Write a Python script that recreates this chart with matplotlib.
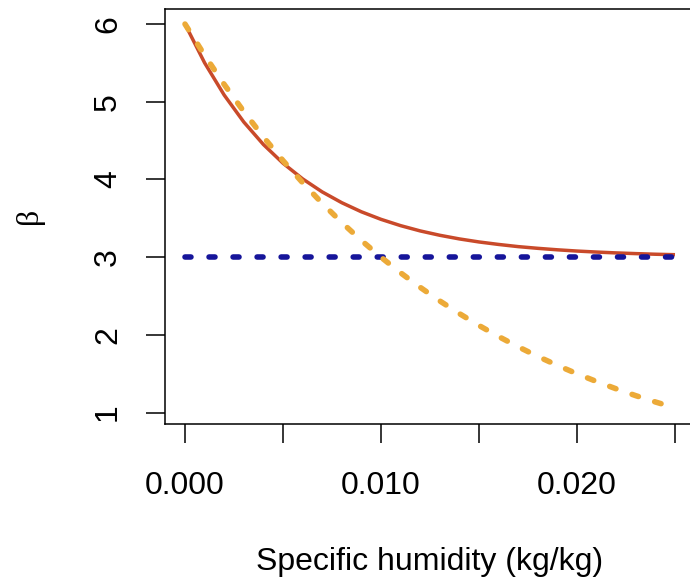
import matplotlib
matplotlib.use('Agg')
import matplotlib.pyplot as plt

plt.rcParams['font.family'] = ['Liberation Sans', 'DejaVu Sans']
plt.rcParams['lines.scale_dashes'] = False

# Specific humidity (kg/kg)
q = [0.000, 0.001, 0.002, 0.003, 0.004, 0.005, 0.006, 0.007, 0.008, 0.009,
     0.010, 0.011, 0.012, 0.013, 0.014, 0.015, 0.016, 0.017, 0.018, 0.019,
     0.020, 0.021, 0.022, 0.023, 0.024, 0.025]
# red solid curve
beta_red = [6.000, 5.501, 5.086, 4.739, 4.450, 4.209, 4.008, 3.840, 3.701, 3.584,
            3.487, 3.406, 3.338, 3.282, 3.235, 3.196, 3.164, 3.136, 3.114, 3.095,
            3.079, 3.066, 3.055, 3.046, 3.038, 3.032]
# orange dashed curve
beta_orange = [6.000, 5.598, 5.223, 4.874, 4.547, 4.243, 3.959, 3.693, 3.446, 3.215,
               3.000, 2.799, 2.612, 2.437, 2.274, 2.121, 1.979, 1.847, 1.723, 1.608,
               1.500, 1.400, 1.306, 1.218, 1.137, 1.061]
# blue dotted constant
q_blue = [0.000, 0.025]
beta_blue = [3.0, 3.0]

xticks = [0.000, 0.005, 0.010, 0.015, 0.020, 0.025]
xtick_labels = ['0.000', '', '0.010', '', '0.020', '']
yticks = [1, 2, 3, 4, 5, 6]
ytick_labels = ['1', '2', '3', '4', '5', '6']

W, H = 690, 582
fig = plt.figure(figsize=(W / 100, H / 100), dpi=100)
ax = fig.add_axes([165.4 / W, (H - 423.5) / H, 529.2 / W, 415 / H])

ax.plot(q, beta_red, color='#C94A2A', lw=2.5, solid_capstyle='butt', zorder=3)
ax.plot(q_blue, beta_blue, color='#16159A', lw=4.0, dashes=(4.3, 13.0),
        dash_capstyle='round', zorder=4)
ax.plot(q, beta_orange, color='#ECAA38', lw=4.0, dashes=(4.8, 12.3),
        dash_capstyle='round', zorder=5)

ax.set_xlim(-0.001, 0.026)
ax.set_ylim(0.86, 6.2)
ax.set_xticks(xticks)
ax.set_xticklabels(xtick_labels)
ax.set_yticks(yticks)
ax.set_yticklabels(ytick_labels, rotation=90, va='center')

for s in ax.spines.values():
    s.set_linewidth(1.1)
ax.tick_params(direction='out', length=14, width=1.1, labelsize=23, colors='black')
ax.tick_params(axis='x', pad=20)
ax.tick_params(axis='y', pad=16.5)

fig.text(29 / W, 1 - 216 / H, 'β', rotation=90, ha='center', va='center',
         fontsize=23, family=['Liberation Serif', 'DejaVu Serif'])
fig.text(430 / W, 1 - 562 / H, 'Specific humidity (kg/kg)', ha='center', va='center',
         fontsize=23)

fig.savefig('out.png', dpi=100)
